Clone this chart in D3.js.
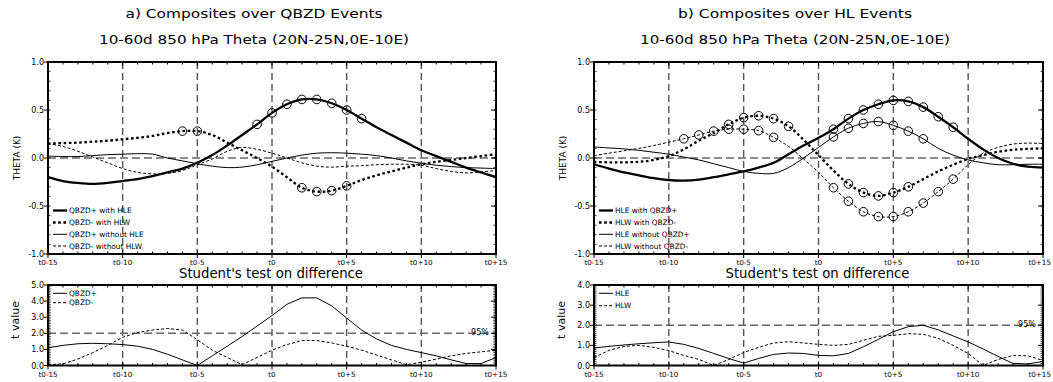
<!DOCTYPE html>
<html><head><meta charset="utf-8">
<script src="https://cdn.jsdelivr.net/npm/d3@7"></script>
<style>body{margin:0;background:#fff}svg{display:block}text{font-family:"DejaVu Sans",sans-serif;fill:#000}</style>
</head><body><svg id="c" width="1053" height="382"></svg>
<script>
// ---------- data ----------
const days = d3.range(-15, 16);
const xTickValues = [-15, -10, -5, 0, 5, 10, 15];
const xTickLabels = ["t0-15", "t0-10", "t0-5", "t0", "t0+5", "t0+10", "t0+15"];
const thetaTicks = [-1.0, -0.5, 0.0, 0.5, 1.0];
const tTicksA = [0, 1, 2, 3, 4, 5];
const tTicksB = [0, 1, 2, 3, 4];

// panel a (top): composites over QBZD events
const qbzdPlusWithHLE = [-0.20,-0.24,-0.26,-0.27,-0.26,-0.24,-0.22,-0.19,-0.15,-0.11,-0.05,0.03,0.13,0.24,0.35,0.47,0.56,0.61,0.61,0.57,0.50,0.41,0.32,0.24,0.16,0.08,0.02,-0.04,-0.10,-0.15,-0.20];
const qbzdMinusWithHLW = [0.15,0.155,0.16,0.17,0.18,0.195,0.21,0.23,0.26,0.28,0.28,0.24,0.16,0.08,0.0,-0.09,-0.20,-0.31,-0.35,-0.34,-0.29,-0.23,-0.18,-0.14,-0.10,-0.065,-0.04,-0.02,0.0,0.02,0.04];
const qbzdPlusWithoutHLE = [0.02,0.015,0.015,0.025,0.035,0.04,0.045,0.04,0.0,-0.03,-0.06,-0.085,-0.10,-0.095,-0.07,-0.035,0.0,0.03,0.05,0.055,0.05,0.04,0.025,0.0,-0.03,-0.055,-0.075,-0.09,-0.10,-0.105,-0.11];
const qbzdMinusWithoutHLW = [0.15,0.12,0.07,0.01,-0.05,-0.11,-0.15,-0.165,-0.16,-0.13,-0.07,-0.01,0.07,0.11,0.09,0.05,0.0,-0.05,-0.085,-0.095,-0.085,-0.08,-0.07,-0.065,-0.065,-0.075,-0.11,-0.14,-0.155,-0.145,-0.13];
const sigA_plusWith = [-1, 0, 1, 2, 3, 4, 5, 6];
const sigA_minusWith = [-6, -5, 2, 3, 4, 5];
// panel a (bottom): t values
const tQbzdPlus = [1.1,1.25,1.35,1.38,1.35,1.3,1.2,1.0,0.7,0.35,0.0,0.6,1.2,1.8,2.45,3.1,3.8,4.2,4.2,3.7,2.95,2.2,1.65,1.25,1.0,0.8,0.6,0.35,0.12,0.12,0.5];
const tQbzdMinus = [0.05,0.1,0.4,0.8,1.25,1.75,2.05,2.2,2.3,2.2,1.6,0.95,0.5,0.05,0.5,0.95,1.3,1.55,1.55,1.4,1.2,0.95,0.65,0.35,0.05,0.2,0.4,0.6,0.75,0.85,0.95];

// panel b (top): composites over HL events
const hleWithQbzdPlus = [-0.065,-0.11,-0.15,-0.18,-0.21,-0.23,-0.235,-0.225,-0.2,-0.17,-0.14,-0.10,-0.05,0.04,0.13,0.21,0.30,0.41,0.50,0.56,0.60,0.59,0.53,0.43,0.32,0.20,0.09,0.0,-0.06,-0.09,-0.10];
const hlwWithQbzdMinus = [-0.04,-0.045,-0.045,-0.04,-0.02,0.02,0.09,0.18,0.26,0.35,0.42,0.44,0.41,0.33,0.19,0.03,-0.13,-0.27,-0.36,-0.395,-0.36,-0.30,-0.22,-0.14,-0.07,-0.01,0.03,0.065,0.085,0.095,0.10];
const hleWithoutQbzdPlus = [0.115,0.105,0.095,0.08,0.06,0.04,0.01,-0.02,-0.06,-0.10,-0.14,-0.16,-0.16,-0.10,0.0,0.11,0.22,0.31,0.36,0.38,0.34,0.28,0.20,0.10,0.03,-0.02,-0.05,-0.07,-0.07,-0.065,-0.065];
const hlwWithoutQbzdMinus = [0.025,0.05,0.075,0.10,0.13,0.165,0.20,0.24,0.28,0.30,0.30,0.285,0.215,0.12,-0.01,-0.15,-0.31,-0.45,-0.56,-0.61,-0.61,-0.56,-0.47,-0.35,-0.22,-0.07,0.05,0.11,0.145,0.155,0.15];
const sigB_hleWith = [1, 2, 3, 4, 5, 6, 7, 8, 9];
const sigB_hlwWith = [-6, -5, -4, -3, -2, 2, 3, 4, 5, 6];
const sigB_hleWithout = [1, 2, 3, 4, 5, 6, 7];
const sigB_hlwWithout = [-9, -8, -7, -6, -5, -4, -3, 1, 2, 3, 4, 5, 6, 7, 8, 9];
// panel b (bottom): t values
const tHLE = [0.87,0.95,1.02,1.08,1.13,1.17,1.05,0.85,0.6,0.35,0.12,0.35,0.55,0.62,0.6,0.5,0.48,0.6,0.93,1.3,1.68,1.93,2.0,1.77,1.47,1.17,0.82,0.45,0.1,0.08,0.2];
const tHLW = [0.4,0.75,0.95,1.0,0.9,0.74,0.5,0.3,0.0,0.3,0.65,0.9,1.12,1.18,1.12,1.05,1.0,1.05,1.25,1.45,1.5,1.58,1.55,1.35,1.0,0.6,0.0,0.3,0.5,0.48,0.25];

// ---------- drawing ----------
const svg = d3.select("#c");
const STY = {
  thickSolid: {w: 2.3, dash: null},
  thickDot:   {w: 2.3, dash: "2.6,2.6"},
  thinSolid:  {w: 1, dash: null},
  thinDash:   {w: 1, dash: "3,2"}
};
const GRID = "#555";

function frame(g, x, y, yTicks, yMinor, yFmt) {
  const [x0, x1] = x.range(); const [y1, y0] = y.range();
  d3.range(-15, 16, 1).forEach(d => {
    const major = d % 5 === 0;
    g.append("line").attr("x1", x(d)).attr("x2", x(d)).attr("y1", y0).attr("y2", y0 + (major ? 4 : 2.5)).attr("stroke", "#000").attr("stroke-width", 1);
    g.append("line").attr("x1", x(d)).attr("x2", x(d)).attr("y1", y1).attr("y2", y1 - (major ? 4 : 2.5)).attr("stroke", "#000").attr("stroke-width", 1);
    if (major) g.append("line").attr("x1", x(d)).attr("x2", x(d)).attr("y1", y1).attr("y2", y1 + 4).attr("stroke", "#000").attr("stroke-width", 1);
  });
  yMinor.forEach(v => {
    g.append("line").attr("x1", x0).attr("x2", x0 + 2.5).attr("y1", y(v)).attr("y2", y(v)).attr("stroke", "#000").attr("stroke-width", 0.8);
    g.append("line").attr("x1", x1).attr("x2", x1 - 2.5).attr("y1", y(v)).attr("y2", y(v)).attr("stroke", "#000").attr("stroke-width", 0.8);
  });
  yTicks.forEach(v => {
    g.append("line").attr("x1", x0 - 4).attr("x2", x0).attr("y1", y(v)).attr("y2", y(v)).attr("stroke", "#000").attr("stroke-width", 1);
    g.append("line").attr("x1", x1 - 5).attr("x2", x1).attr("y1", y(v)).attr("y2", y(v)).attr("stroke", "#000").attr("stroke-width", 1);
    g.append("text").attr("x", x0 - 4).attr("y", y(v) + 3).attr("text-anchor", "end").attr("font-size", 8).text(yFmt(v));
  });
  xTickValues.forEach((d, i) => {
    const last = i === xTickValues.length - 1 && x1 > 1000;
    g.append("text").attr("x", last ? 1051 : x(d)).attr("y", y1 + 11)
      .attr("text-anchor", last ? "end" : "middle").attr("font-size", 7.2).text(xTickLabels[i]);
  });
  g.append("rect").attr("x", x0).attr("y", y0).attr("width", x1 - x0).attr("height", y1 - y0)
    .attr("fill", "none").attr("stroke", "#000").attr("stroke-width", 2);
}

function vGrid(g, x, y) {
  const [y1, y0] = y.range();
  [-10, -5, 0, 5, 10].forEach(d => {
    g.append("line").attr("x1", x(d)).attr("x2", x(d)).attr("y1", y0).attr("y2", y1)
      .attr("stroke", GRID).attr("stroke-width", 1.4).attr("stroke-dasharray", "7,4");
  });
}
function hRef(g, x, y, v) {
  const [x0, x1] = x.range();
  g.append("line").attr("x1", x0).attr("x2", x1).attr("y1", y(v)).attr("y2", y(v))
    .attr("stroke", "#666").attr("stroke-width", 1.6).attr("stroke-dasharray", "8,4");
}
function drawSeries(g, x, y, vals, sty, curve) {
  const line = d3.line().x((v, i) => x(days[i])).y(v => y(v)).curve(curve);
  g.append("path").attr("d", line(vals)).attr("fill", "none").attr("stroke", "#000")
    .attr("stroke-width", sty.w).attr("stroke-dasharray", sty.dash);
}
function drawSig(g, x, y, vals, sig) {
  sig.forEach(d => {
    g.append("circle").attr("cx", x(d)).attr("cy", y(vals[days.indexOf(d)])).attr("r", 4.3)
      .attr("fill", "none").attr("stroke", "#000").attr("stroke-width", 1);
  });
}
function legend(g, x0, ys, items) {
  items.forEach((it, i) => {
    g.append("line").attr("x1", x0 + 5).attr("x2", x0 + 19).attr("y1", ys[i]).attr("y2", ys[i])
      .attr("stroke", "#000").attr("stroke-width", it.sty.w).attr("stroke-dasharray", it.sty.dash);
    g.append("text").attr("x", x0 + 21).attr("y", ys[i] + 2.7).attr("font-size", 7.4).text(it.label);
  });
}

function panel(cfg) {
  const g = svg.append("g");
  const xT = d3.scaleLinear().domain([-15, 15]).range([cfg.x0, cfg.x1]);
  const yT = d3.scaleLinear().domain([-1, 1]).range([254, 62]);
  const yB = d3.scaleLinear().domain([0, cfg.tMax]).range([365.5, 285]);
  const cx = (cfg.x0 + cfg.x1) / 2;

  g.append("text").attr("x", cfg.titleX).attr("y", 18).attr("text-anchor", "middle").attr("font-size", 11.5)
    .attr("textLength", cfg.t1w).attr("lengthAdjust", "spacingAndGlyphs").text(cfg.title1);
  g.append("text").attr("x", cfg.titleX).attr("y", 44).attr("text-anchor", "middle").attr("font-size", 11.5)
    .attr("textLength", 310).attr("lengthAdjust", "spacingAndGlyphs").text("10-60d 850 hPa Theta (20N-25N,0E-10E)");
  g.append("text").attr("x", cx - 1).attr("y", 278).attr("text-anchor", "middle").attr("font-size", 13.5)
    .attr("textLength", 184).attr("lengthAdjust", "spacingAndGlyphs").text("Student's test on difference");

  g.append("text").attr("transform", `translate(${cfg.x0 - 28},158) rotate(-90)`).attr("text-anchor", "middle")
    .attr("font-size", 9).text("THETA (K)");
  g.append("text").attr("transform", `translate(${cfg.x0 - 29},320) rotate(-90)`).attr("text-anchor", "middle")
    .attr("font-size", 11).text("t value");

  vGrid(g, xT, yT); hRef(g, xT, yT, 0);
  const curve = d3.curveCatmullRom.alpha(0.5);
  cfg.top.forEach(s => drawSeries(g, xT, yT, s.vals, s.sty, curve));
  cfg.top.forEach(s => { if (s.sig) drawSig(g, xT, yT, s.vals, s.sig); });
  frame(g, xT, yT, thetaTicks, d3.range(-1, 1.001, 0.1), d => d.toFixed(1));
  legend(g, cfg.x0, [210.5, 222.5, 234.3, 246], cfg.top);

  vGrid(g, xT, yB); hRef(g, xT, yB, 2);
  cfg.bottom.forEach(s => drawSeries(g, xT, yB, s.vals, s.sty, d3.curveLinear));
  frame(g, xT, yB, cfg.tTicks, d3.range(0, cfg.tMax + 0.001, 0.1), d => d.toFixed(1));
  legend(g, cfg.x0, cfg.bLegY, cfg.bottom);
  g.append("text").attr("x", cfg.x1 - 16).attr("y", yB(2) + 1.5).attr("text-anchor", "middle").attr("font-size", 8).text("95%");
}

panel({
  x0: 48, x1: 496, tMax: 5, tTicks: tTicksA, titleX: 254, t1w: 257,
  title1: "a) Composites over QBZD Events",
  top: [
    {vals: qbzdPlusWithHLE, sty: STY.thickSolid, sig: sigA_plusWith, label: "QBZD+ with HLE"},
    {vals: qbzdMinusWithHLW, sty: STY.thickDot, sig: sigA_minusWith, label: "QBZD- with HLW"},
    {vals: qbzdPlusWithoutHLE, sty: STY.thinSolid, label: "QBZD+ without HLE"},
    {vals: qbzdMinusWithoutHLW, sty: STY.thinDash, label: "QBZD- without HLW"}
  ],
  bottom: [
    {vals: tQbzdPlus, sty: {w: 1, dash: null}, label: "QBZD+"},
    {vals: tQbzdMinus, sty: {w: 1, dash: "3,2"}, label: "QBZD-"}
  ],
  bLegY: [293.3, 302.7]
});
panel({
  x0: 594, x1: 1043, tMax: 4, tTicks: tTicksB, titleX: 795, t1w: 234,
  title1: "b) Composites over HL Events",
  top: [
    {vals: hleWithQbzdPlus, sty: STY.thickSolid, sig: sigB_hleWith, label: "HLE with QBZD+"},
    {vals: hlwWithQbzdMinus, sty: STY.thickDot, sig: sigB_hlwWith, label: "HLW with QBZD-"},
    {vals: hleWithoutQbzdPlus, sty: STY.thinSolid, sig: sigB_hleWithout, label: "HLE without QBZD+"},
    {vals: hlwWithoutQbzdMinus, sty: STY.thinDash, sig: sigB_hlwWithout, label: "HLW without QBZD-"}
  ],
  bottom: [
    {vals: tHLE, sty: {w: 1, dash: null}, label: "HLE"},
    {vals: tHLW, sty: {w: 1, dash: "3,2"}, label: "HLW"}
  ],
  bLegY: [293.3, 305.7]
});
</script></body></html>
